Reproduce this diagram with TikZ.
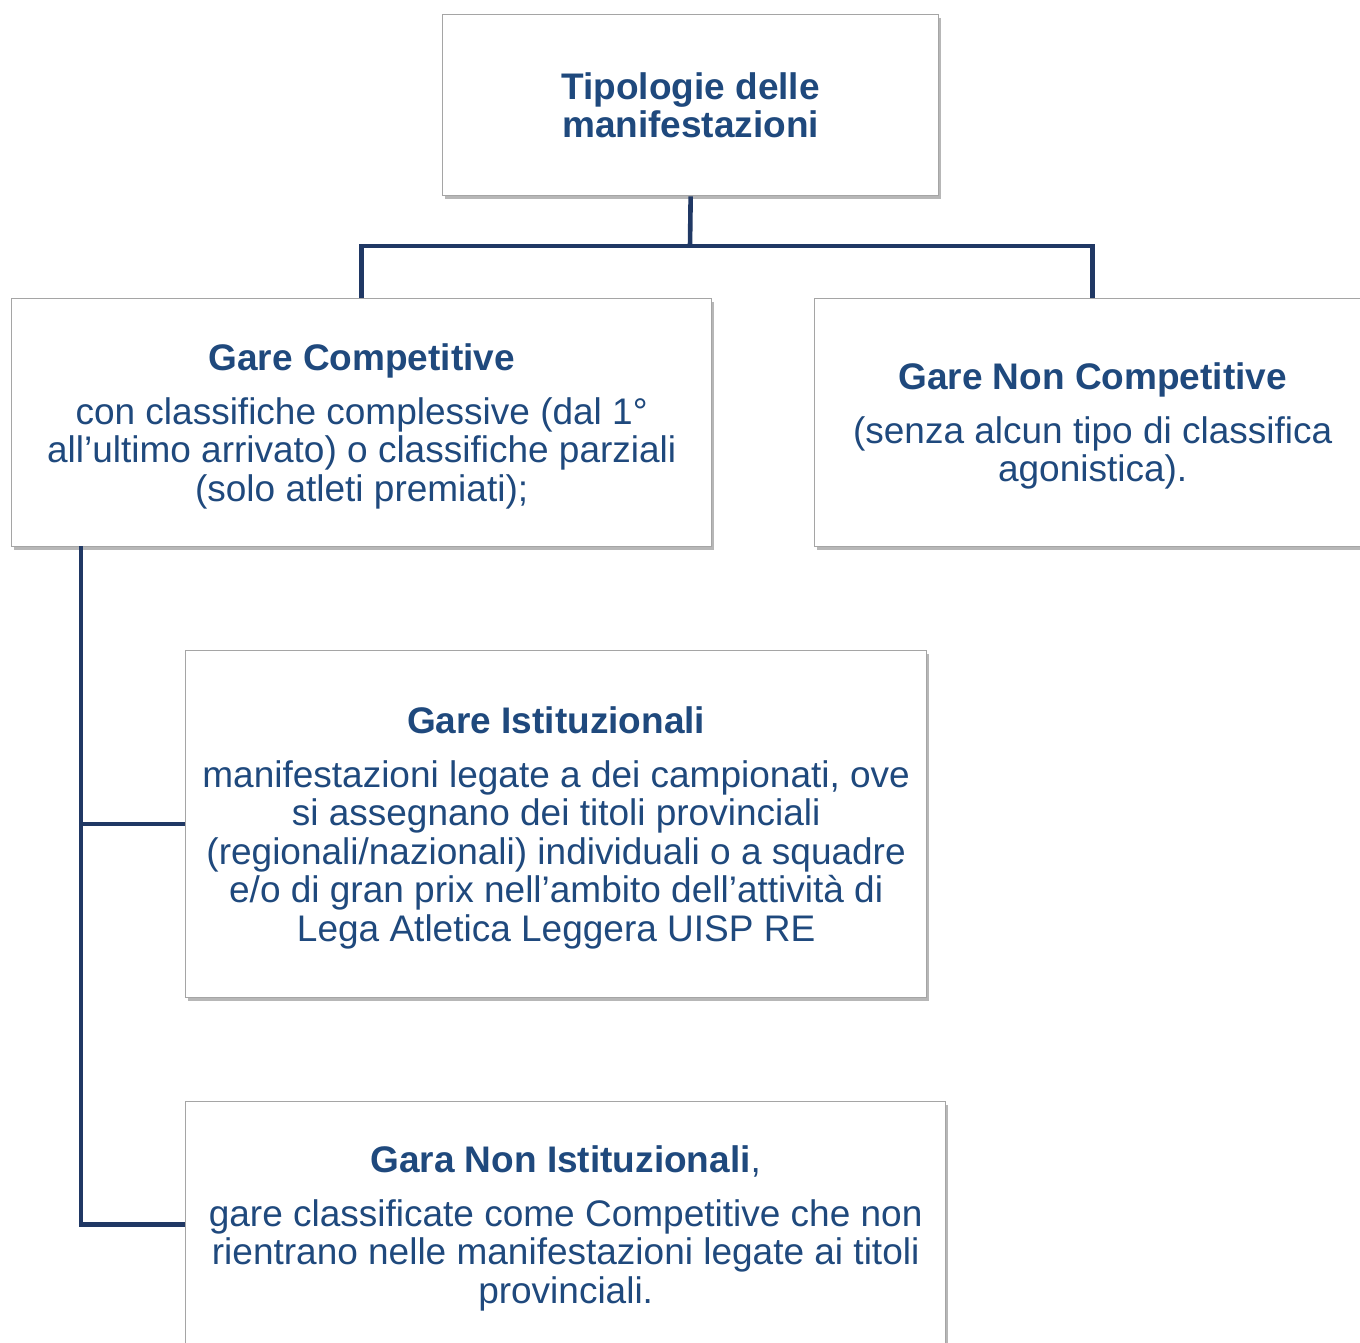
\documentclass[tikz,border=0pt]{standalone}
\usepackage{fontspec}
\setmainfont{Liberation Sans}
\usetikzlibrary{shadows}
\definecolor{txtblue}{RGB}{31,73,125}
\definecolor{lineblue}{RGB}{32,56,100}
\definecolor{boxgray}{RGB}{165,165,165}
\newcommand{\topstrut}{\rule{0pt}{34pt}}
\begin{document}
\begin{tikzpicture}[x=1pt,y=-1pt,
  box/.style={draw=boxgray, line width=1.3pt, fill=white,
    drop shadow={shadow xshift=2pt, shadow yshift=-3pt, opacity=0.4, fill=black!70},
    anchor=north west, inner sep=0pt, align=center, text=txtblue,
    font=\fontsize{37}{38.5}\selectfont},
  conn/.style={draw=lineblue, line width=4.6pt}]
\useasboundingbox (0,0) rectangle (1360,1343);
\clip (0,0) rectangle (1360,1343);
\node[box, minimum width=496pt, minimum height=181pt] (top) at (442,14)
  {\textbf{Tipologie delle}\\\textbf{manifestazioni}};
\node[box, minimum width=700pt, minimum height=248pt] (left) at (11,298)
  {\topstrut\textbf{Gare Competitive}\\[15pt]con classifiche complessive (dal 1°\\all’ultimo arrivato) o classifiche parziali\\(solo atleti premiati);};
\node[box, minimum width=556pt, minimum height=248pt] (right) at (814,298)
  {\topstrut\textbf{Gare Non Competitive}\\[15pt](senza alcun tipo di classifica\\agonistica).};
\node[box, minimum width=741pt, minimum height=347pt] (mid) at (185,650)
  {\topstrut\textbf{Gare Istituzionali}\\[15pt]manifestazioni legate a dei campionati, ove\\si assegnano dei titoli provinciali\\(regionali/nazionali) individuali o a squadre\\e/o di gran prix nell’ambito dell’attività di\\Lega Atletica Leggera UISP RE};
\node[box, minimum width=760pt, minimum height=254pt] (bot) at (185,1101)
  {\textbf{Gara Non Istituzionali},\\[15pt]gare classificate come Competitive che non\\rientrano nelle manifestazioni legate ai titoli\\provinciali.};
\coordinate (bus) at (690,246);
\coordinate (spine) at (81,546);
\draw[conn] (top.south) -- (bus);
\draw[conn] (left.north) |- (bus) -| (right.north);
\draw[conn] (spine) |- (mid.west);
\draw[conn] (spine) |- ([yshift=4pt]bot.west);
\end{tikzpicture}
\end{document}
